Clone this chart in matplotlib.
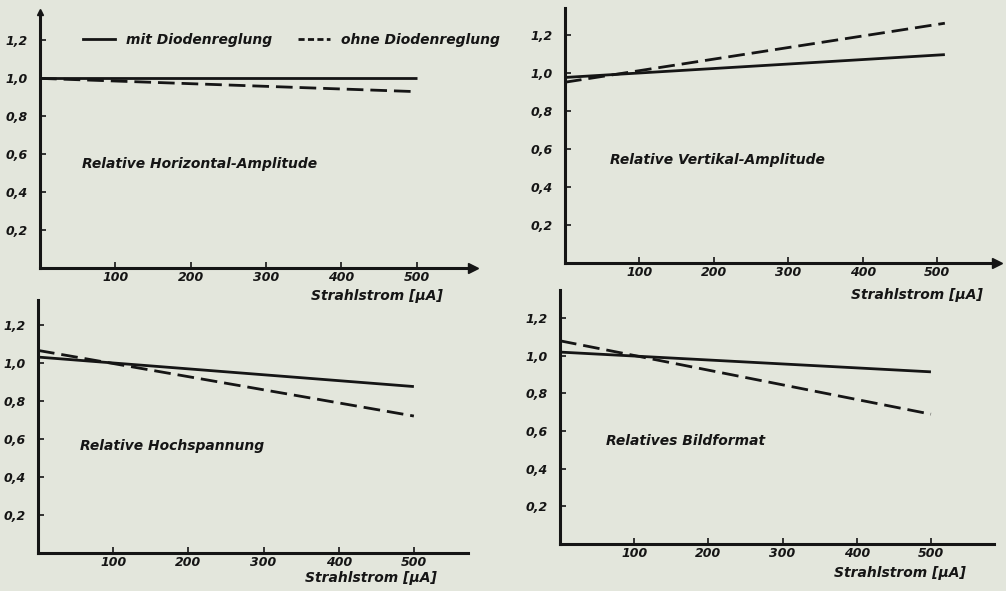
import matplotlib
matplotlib.use("Agg")
import matplotlib.pyplot as plt
from matplotlib.lines import Line2D

# ---- data ----
x_points = [0, 500]
horiz_mit = [1.00, 1.00]
horiz_ohne = [1.00, 0.93]
vert_mit = [0.975, 1.095]
vert_ohne = [0.95, 1.26]
hoch_mit = [1.03, 0.875]
hoch_ohne = [1.065, 0.72]
bild_mit = [1.02, 0.915]
bild_ohne = [1.08, 0.69]
vert_x = [0, 510]

y_ticks = [0.2, 0.4, 0.6, 0.8, 1.0, 1.2]
y_ticklabels = ["0,2", "0,4", "0,6", "0,8", "1,0", "1,2"]
x_ticks = [100, 200, 300, 400, 500]
x_ticklabels = ["100", "200", "300", "400", "500"]
titles = ["Relative Horizontal-Amplitude", "Relative Vertikal-Amplitude",
          "Relative Hochspannung", "Relatives Bildformat"]
xlabel = "Strahlstrom [μA]"
legend_labels = ["mit Diodenreglung", "ohne Diodenreglung"]

BG = "#e3e6dc"
INK = "#151515"
FONT = ["Liberation Sans Narrow", "DejaVu Sans"]
plt.rcParams["font.family"] = FONT

W, H = 1006, 591
fig = plt.figure(figsize=(W / 100, H / 100), dpi=100, facecolor=BG)

def make_ax(x0, x1, y0, ytop, xmax, ymax):
    left = x0 / W
    width = (x1 - x0) / W
    bottom = (H - y0) / H
    height = (y0 - ytop) / H
    ax = fig.add_axes([left, bottom, width, height])
    ax.set_xlim(0, xmax)
    ax.set_ylim(0, ymax)
    ax.set_facecolor("none")
    for s in ["top", "right"]:
        ax.spines[s].set_visible(False)
    for s in ["left", "bottom"]:
        ax.spines[s].set_linewidth(2.2)
        ax.spines[s].set_color(INK)
    ax.set_yticks(y_ticks)
    ax.set_yticklabels(y_ticklabels)
    ax.set_xticks(x_ticks)
    ax.set_xticklabels(x_ticklabels)
    ax.tick_params(axis="both", direction="in", length=4, width=1.2, color=INK,
                   labelsize=9, labelcolor=INK)
    ax.tick_params(axis="y", pad=9)
    ax.tick_params(axis="x", pad=2)
    for lab in ax.get_xticklabels() + ax.get_yticklabels():
        lab.set_fontstyle("italic")
        lab.set_fontweight("bold")
    return ax

axes = [
    make_ax(40, 473, 268, 12, 575, 1.35),
    make_ax(565, 997, 263, 8, 580, 1.34),
    make_ax(38, 468, 553, 300, 572, 1.33),
    make_ax(560, 994, 544, 290, 585, 1.35),
]

series = [
    (x_points, horiz_mit, horiz_ohne),
    (vert_x, vert_mit, vert_ohne),
    (x_points, hoch_mit, hoch_ohne),
    (x_points, bild_mit, bild_ohne),
]
title_pos = [(56, 0.55), (60, 0.54), (56, 0.56), (62, 0.55)]
xlabel_pos = [(535, -0.15), (561, -0.168), (531, -0.132), (547, -0.155)]

for ax, (xs, ym, yo), tp, xp, t in zip(axes, series, title_pos, xlabel_pos, titles):
    ax.plot(xs, ym, color=INK, lw=2.0, solid_capstyle="butt")
    ax.plot(xs, yo, color=INK, lw=2.0, dashes=(6, 2.5))
    ax.text(tp[0], tp[1], t, fontsize=10, fontstyle="italic", fontweight="bold",
            color=INK, ha="left", va="center")
    ax.text(xp[0], xp[1], xlabel, fontsize=10, fontstyle="italic", fontweight="bold",
            color=INK, ha="right", va="center", clip_on=False)

# axis arrows
for ax in axes[:2]:
    ax.plot(1, 0, ">", color=INK, ms=7, transform=ax.transAxes, clip_on=False)
axes[0].plot(0, 1, "^", color=INK, ms=5, transform=axes[0].transAxes, clip_on=False)

# legend
handles = [Line2D([], [], color=INK, lw=2.0),
           Line2D([], [], color=INK, lw=2.0, dashes=(2.2, 1.2))]
leg = axes[0].legend(handles, legend_labels, ncol=2, frameon=False,
                     loc="center left", bbox_to_anchor=(0.07, 0.89),
                     handlelength=2.3, handletextpad=0.8, columnspacing=1.9,
                     prop={"size": 10, "style": "italic", "weight": "bold", "family": FONT})
for txt in leg.get_texts():
    txt.set_color(INK)

fig.savefig("out.png", dpi=100, facecolor=BG)
